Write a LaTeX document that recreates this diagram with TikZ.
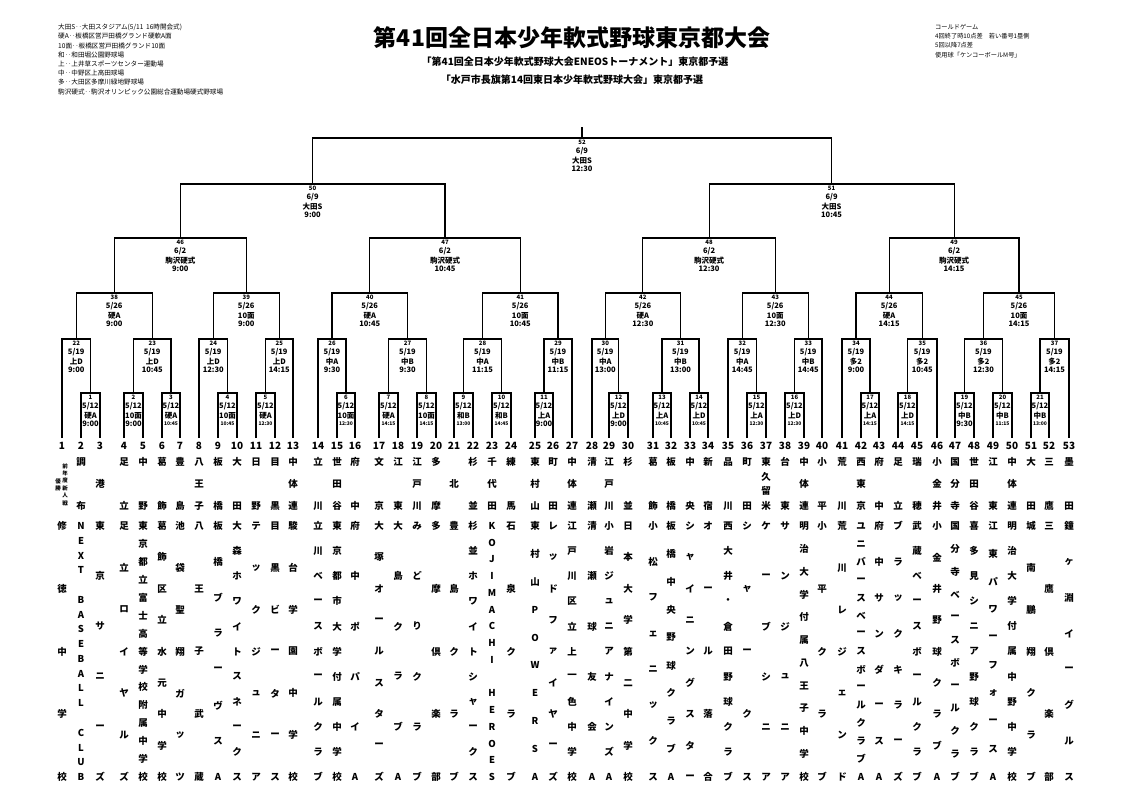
\documentclass[tikz,border=0pt]{standalone}
\usepackage{fontspec}
\setmainfont{Noto Sans CJK JP}
\usepackage{tikz}
\usetikzlibrary{calc,positioning}
\tikzset{
    %Define style for bracket lines
    bline/.style={
           draw=black,
           line width=1.1pt,
           },
    %Define styles for texts
    gno/.style={
           inner sep=0pt,
           font=\fontsize{6}{6}\selectfont\bfseries,
           },
    ginfo/.style={
           inner sep=0pt,
           font=\fontsize{7.5}{7.5}\selectfont\bfseries,
           },
    tno/.style={
           inner sep=0pt,
           font=\fontsize{10}{10}\selectfont\bfseries,
           },
    tchar/.style={
           inner sep=0pt,
           font=\fontsize{9.5}{9.5}\selectfont\bfseries,
           },
    tsmall/.style={
           inner sep=0pt,
           font=\fontsize{5.5}{5.5}\selectfont\bfseries,
           },
    memo/.style={
           inner sep=0pt,
           align=left,
           anchor=north west,
           font=\fontsize{6.6}{9.2}\selectfont,
           },
}

% vertical column of characters, spread evenly from #2 to #3
\ExplSyntaxOn
\int_new:N \l_vc_n_int
\int_new:N \l_vc_i_int
\tl_new:N \l_vc_y_tl
\tl_new:N \l_vc_s_tl
\NewDocumentCommand{\vcol}{mmmmm}
 {
  \tl_set:Nx \l_vc_s_tl {#5}
  \int_set:Nn \l_vc_n_int { \tl_count:N \l_vc_s_tl }
  \int_zero:N \l_vc_i_int
  \tl_map_inline:Nn \l_vc_s_tl
   {
    \int_compare:nNnTF { \l_vc_n_int } = { 1 }
     { \tl_set:Nx \l_vc_y_tl { \fp_eval:n { (#2 + #3) / 2 } } }
     { \tl_set:Nx \l_vc_y_tl { \fp_eval:n { #2 + \l_vc_i_int * (#3 - #2) / (\l_vc_n_int - 1) } } }
    \str_if_eq:nnF {##1} {*}
     { \node[#4] ~ at ~ (#1, \l_vc_y_tl) {##1}; }
    \int_incr:N \l_vc_i_int
   }
 }
\ExplSyntaxOff

% one game: number, left, right, level, date, venue, time
\newcommand{\game}[7]{%
  \path ($(#2)!.5!(#3)$) coordinate (g#1x);
  \coordinate (g#1) at (g#1x |- 0,#4);
  \draw[bline] (#2) |- (g#1) -| (#3);
  \node[gno] (g#1-no) at ([yshift=-4.5pt]g#1) {#1};
  \node[ginfo] (g#1-d) at ([yshift=-13.5pt]g#1) {#5};
  \node[ginfo] (g#1-v) at ([yshift=-22.5pt]g#1) {#6};
  \node[ginfo] (g#1-t) at ([yshift=-31pt]g#1) {#7};
}

% one team: number, x, district, name
\newcommand{\team}[4]{%
  \coordinate (t#1) at (#2,438);
  \node[tno] (n#1) at (#2,446) {#1};
  \vcol{#2}{462}{506}{tchar}{#3}
  \vcol{#2}{526}{777}{tchar}{#4}
}

\begin{document}
\begin{tikzpicture}[x=1pt,y=-1pt]
\useasboundingbox[fill=white] (0,0) rectangle (1138,799);

% headings
\node[inner sep=0pt,font=\fontsize{23}{23}\selectfont\bfseries] (title) at (572,38) {第41回全日本少年軟式野球東京都大会};
\node[inner sep=0pt,font=\fontsize{10}{10}\selectfont\bfseries] (sub1) at (575,62) {「第41回全日本少年軟式野球大会ENEOSトーナメント」東京都予選};
\node[inner sep=0pt,font=\fontsize{10}{10}\selectfont\bfseries] (sub2) at (572,80) {「水戸市長旗第14回東日本少年軟式野球大会」東京都予選};
\node[memo] (legend) at (58,24) {大田S‥大田スタジアム(5/11\hspace{0.4em}16時開会式)\\
硬A‥板橋区営戸田橋グランド硬軟A面\\
10面‥板橋区営戸田橋グランド10面\\
和‥和田堀公園野球場\\
上‥上井草スポーツセンター運動場\\
中‥中野区上高田球場\\
多‥大田区多摩川緑地野球場\\
駒沢硬式‥駒沢オリンピック公園総合運動場硬式野球場};
\node[memo,font=\fontsize{6.2}{9.3}\selectfont] (rule) at (935,24) {コールドゲーム\\
4回終了時10点差　若い番号1塁側\\
5回以降7点差\\
使用球「ケンコーボールM号」};

% teams
\foreach \n/\x/\d/\s in {1/62/{}/修徳中学校, 2/81/調布/NEXT*BASEBALL*CLUB,
  3/100/港/東京サニーズ, 4/124/足立/足立ロイヤルズ, 5/143/中野/東京都立富士高等学校附属中学校,
  6/162/葛飾/葛飾区立水元中学校, 7/180/豊島/池袋聖翔ガッツ, 8/199/八王子/八王子武蔵,
  9/218/板橋/板橋ブラーヴスA, 10/237/大田/大森ホワイトスネークス, 11/256/日野/テックジュニア,
  12/275/目黒/目黒ビータース, 13/293/中体連/駿台学園中学校, 14/318/立川/立川ベースボールクラブ,
  15/337/世田谷/東京都市大学付属中学校, 16/355/府中/府中ポパイA, 17/379/文京/大塚オールスターズ,
  18/398/江東/大島クラブA, 19/417/江戸川/みどりクラブ, 20/436/多摩/多摩倶楽部,
  21/454/北/豊島クラブ, 22/473/杉並/杉並ホワイトシャークス, 23/492/千代田/KOJIMACHI*HEROES,
  24/511/練馬/石泉クラブ, 25/535/東村山/東村山POWERSA, 26/553/町田/レッドファイヤーズ,
  27/572/中体連/江戸川区立上一色中学校, 28/592/清瀬/清瀬球友会A, 29/609/江戸川/小岩ジュニアナインズA,
  30/628/杉並/日本大学第二中学校, 31/653/葛飾/小松フェニックス, 32/671/板橋/板橋中央野球クラブA,
  33/690/中央/シャイニングスター, 34/708/新宿/オール落合, 35/728/品川/西大井・倉田野球クラブ,
  36/747/町田/シャークス, 37/766/東久留米/ケーブシニア, 38/785/台東/サンジュニア,
  39/804/中体連/明治大学付属八王子中学校, 40/822/小平/小平クラブ, 41/842/荒川/荒川レジェンド,
  42/861/西東京/ユニバースベースボールクラブA, 43/879/府中/府中サンダースA, 44/898/足立/ブラックキラーズ,
  45/917/瑞穂/武蔵ベースボールクラブ, 46/937/小金井/小金井野球クラブA, 47/955/国分寺/国分寺ベースボールクラブ,
  48/974/世田谷/喜多見シニア野球クラブ, 49/993/江東/江東パワーフォースA, 50/1012/中体連/明治大学付属中野中学校,
  51/1031/大田/城南鵬翔クラブ, 52/1049/三鷹/三鷹倶楽部, 53/1069/墨田/鐘ヶ淵イーグルス}
  {\team{\n}{\x}{\d}{\s}}
\vcol{65}{466}{503}{tsmall}{前年度新人戦}
\vcol{58}{481}{488}{tsmall}{優勝}

% 1st round
\foreach \g/\ga/\gb/\ve/\ti in {1/t2/t3/硬A/9:00, 2/t4/t5/10面/9:00, 3/t6/t7/硬A/\tiny 10:45,
  4/t9/t10/10面/\tiny 10:45, 5/t11/t12/硬A/\tiny 12:30, 6/t15/t16/10面/\tiny 12:30,
  7/t17/t18/硬A/\tiny 14:15, 8/t19/t20/10面/\tiny 14:15, 9/t21/t22/和B/\tiny 13:00,
  10/t23/t24/和B/\tiny 14:45, 11/t25/t26/上A/9:00, 12/t29/t30/上D/9:00,
  13/t31/t32/上A/\tiny 10:45, 14/t33/t34/上D/\tiny 10:45, 15/t36/t37/上A/\tiny 12:30,
  16/t38/t39/上D/\tiny 12:30, 17/t42/t43/上A/\tiny 14:15, 18/t44/t45/上D/\tiny 14:15,
  19/t47/t48/中B/9:30, 20/t49/t50/中B/\tiny 11:15, 21/t51/t52/中B/\tiny 13:00}
  {\game{\g}{\ga}{\gb}{393}{5/12}{\ve}{\ti}}

% 2nd round
\foreach \g/\ga/\gb/\ve/\ti in {22/t1/g1/上D/9:00, 23/g2/g3/上D/10:45, 24/t8/g4/上D/12:30,
  25/g5/t13/上D/14:15, 26/t14/g6/中A/9:30, 27/g7/g8/中B/9:30, 28/g9/g10/中A/11:15,
  29/g11/t27/中B/11:15, 30/t28/g12/中A/13:00, 31/g13/g14/中B/13:00, 32/t35/g15/中A/14:45,
  33/g16/t40/中B/14:45, 34/t41/g17/多2/9:00, 35/g18/t46/多2/10:45, 36/g19/g20/多2/12:30,
  37/g21/t53/多2/14:15}
  {\game{\g}{\ga}{\gb}{339}{5/19}{\ve}{\ti}}

% 3rd round
\foreach \g/\ga/\gb/\ve/\ti in {38/g22/g23/硬A/9:00, 39/g24/g25/10面/9:00, 40/g26/g27/硬A/10:45,
  41/g28/g29/10面/10:45, 42/g30/g31/硬A/12:30, 43/g32/g33/10面/12:30, 44/g34/g35/硬A/14:15,
  45/g36/g37/10面/14:15}
  {\game{\g}{\ga}{\gb}{293}{5/26}{\ve}{\ti}}

% quarter finals
\foreach \g/\ga/\gb/\ti in {46/g38/g39/9:00, 47/g40/g41/10:45, 48/g42/g43/12:30, 49/g44/g45/14:15}
  {\game{\g}{\ga}{\gb}{238}{6/2}{駒沢硬式}{\ti}}

% semi finals
\game{50}{g46}{g47}{184}{6/9}{大田S}{9:00}
\game{51}{g48}{g49}{184}{6/9}{大田S}{10:45}

% final
\coordinate (g52) at (582,138);
\coordinate (champ) at (582,127);
\draw[bline] (g50) |- (g52) -| (g51);
\draw[bline] (g52) -- (champ);
\node[gno] (g52-no) at ([yshift=-4.5pt]g52) {52};
\node[ginfo] (g52-d) at ([yshift=-13.5pt]g52) {6/9};
\node[ginfo] (g52-v) at ([yshift=-22.5pt]g52) {大田S};
\node[ginfo] (g52-t) at ([yshift=-31pt]g52) {12:30};
\end{tikzpicture}
\end{document}
